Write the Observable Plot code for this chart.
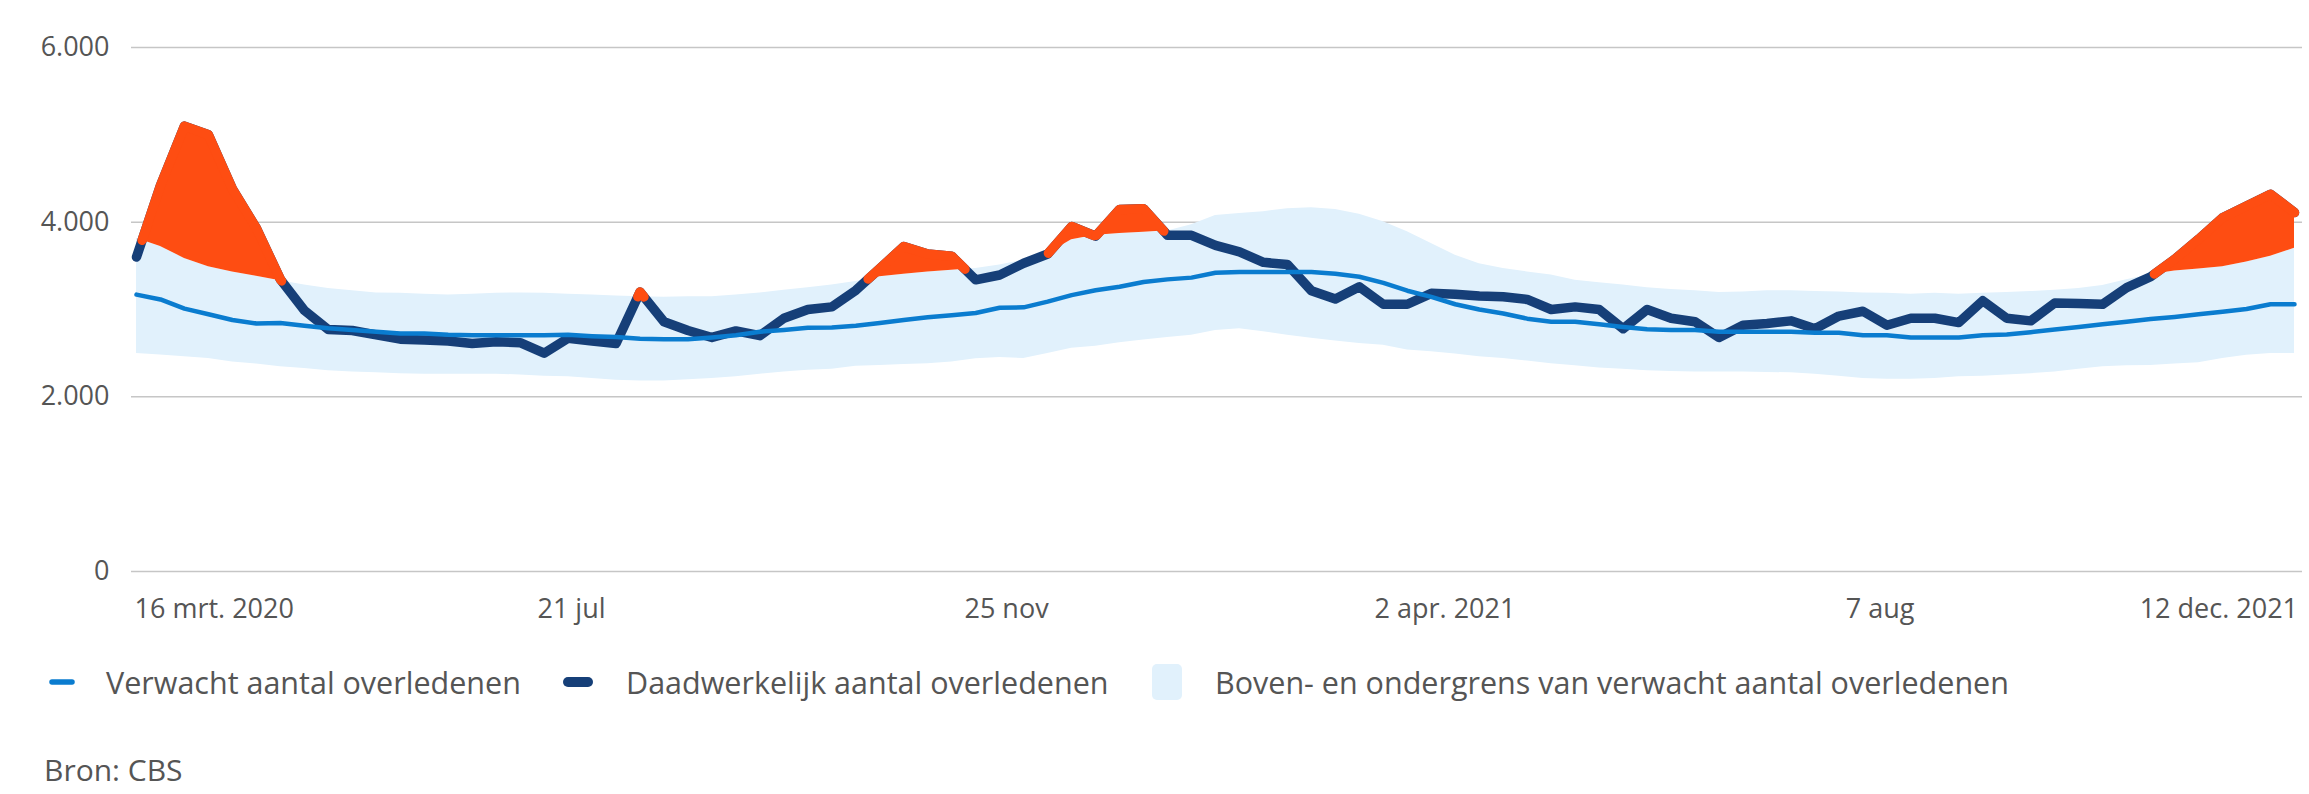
<!DOCTYPE html>
<html>
<head>
<meta charset="utf-8">
<script src="https://cdn.jsdelivr.net/npm/d3@7"></script>
<script src="https://cdn.jsdelivr.net/npm/@observablehq/plot@0.6"></script>
<style>
  html, body { margin: 0; padding: 0; background: #fff; }
  body { font-family: "Open Sans", sans-serif; color: #555; }
  #wrap { position: relative; width: 2309px; height: 794px; overflow: hidden; }
  #chart { position: absolute; left: 0; top: 0; }
  .item { position: absolute; top: 662px; height: 40px; display: flex; align-items: center; font-size: 30.5px; white-space: nowrap; }
  .sw { flex: none; }
  .txt { margin-left: 32px; }
  #source { position: absolute; left: 44px; top: 755px; height: 30px; line-height: 30px; font-size: 30px; white-space: nowrap; }
</style>
</head>
<body>
<div id="wrap">
  <div id="chart"></div>
  <div id="legend"></div>
  <div id="source"></div>
</div>
<script>
// ---- data (weekly, first week starting 16 March 2020) ----
const firstWeek = "2020-03-16";

const actual = [
  3600, 4420, 5100, 5000, 4380, 3930, 3345, 2990, 2770, 2760,
  2710, 2660, 2650, 2640, 2610, 2630, 2620, 2500, 2670, 2640,
  2610, 3200, 2860, 2760, 2680, 2755, 2700, 2900, 3000, 3030,
  3220, 3470, 3720, 3635, 3610, 3340, 3395, 3530, 3635, 3950,
  3840, 4145, 4155, 3850, 3850, 3735, 3660, 3540, 3515, 3215,
  3120, 3260, 3060, 3060, 3185, 3175, 3155, 3145, 3115, 3000,
  3030, 3000, 2780, 3000, 2900, 2860, 2680, 2820, 2840, 2870,
  2780, 2925, 2980, 2820, 2900, 2900, 2850, 3100, 2900, 2870,
  3075, 3070, 3060, 3250, 3375, 3575, 3805, 4050, 4185, 4320,
  4110
];

const expected = [
  3170, 3115, 3010, 2945, 2880, 2840, 2845, 2815, 2785, 2765,
  2745, 2725, 2725, 2710, 2705, 2705, 2705, 2705, 2710, 2695,
  2685, 2665, 2660, 2660, 2680, 2705, 2745, 2765, 2790, 2795,
  2815, 2845, 2880, 2910, 2935, 2960, 3020, 3025, 3090, 3165,
  3220, 3260, 3315, 3345, 3365, 3420, 3430, 3430, 3430, 3430,
  3410, 3375, 3305, 3215, 3145, 3060, 3000, 2955, 2895, 2860,
  2860, 2830, 2800, 2775, 2765, 2765, 2745, 2745, 2745, 2745,
  2735, 2735, 2705, 2705, 2680, 2680, 2680, 2705, 2715, 2740,
  2770, 2800, 2830, 2860, 2890, 2915, 2945, 2975, 3005, 3060,
  3060
];

const upper = [
  3815, 3720, 3585, 3490, 3430, 3380, 3330, 3280, 3240, 3215,
  3190, 3185, 3175, 3165, 3175, 3185, 3190, 3185, 3175, 3165,
  3155, 3145, 3140, 3145, 3145, 3165, 3190, 3220, 3250, 3280,
  3320, 3375, 3405, 3430, 3450, 3470, 3510, 3565, 3640, 3800,
  3850, 3870, 3885, 3900, 3970, 4075, 4100, 4120, 4155, 4165,
  4145, 4090, 4005, 3890, 3755, 3620, 3525, 3470, 3430, 3395,
  3335, 3305, 3280, 3250, 3230, 3215, 3195, 3200, 3215, 3215,
  3205, 3200, 3190, 3185, 3175, 3185, 3175, 3185, 3195, 3205,
  3220, 3240, 3275, 3340, 3400, 3440, 3465, 3490, 3545, 3610,
  3700
];

const lower = [
  2495, 2480, 2460, 2440, 2400, 2375, 2345, 2325, 2300, 2285,
  2275, 2265, 2260, 2260, 2260, 2260, 2250, 2235, 2230, 2210,
  2190, 2180, 2180, 2195, 2210, 2230, 2260, 2285, 2305, 2315,
  2350, 2360, 2370, 2380, 2400, 2435, 2450, 2440, 2495, 2555,
  2580, 2620, 2650, 2680, 2705, 2760, 2780, 2745, 2705, 2670,
  2640, 2610, 2590, 2535, 2515, 2490, 2460, 2440, 2410, 2380,
  2355, 2330, 2315, 2300, 2290, 2285, 2285, 2285, 2280, 2275,
  2260, 2235, 2210, 2200, 2200, 2210, 2230, 2235, 2250, 2265,
  2285, 2315, 2345, 2355, 2360, 2375, 2390, 2440, 2475, 2495,
  2495
];

const yTicks = [0, 2000, 4000, 6000];
const xTickDates = ["2020-03-16", "2020-07-21", "2020-11-25", "2021-04-02", "2021-08-07", "2021-12-12"];
const xTickLabels = ["16 mrt. 2020", "21 jul", "25 nov", "2 apr. 2021", "7 aug", "12 dec. 2021"];

const legendLabels = [
  "Verwacht aantal overledenen",
  "Daadwerkelijk aantal overledenen",
  "Boven- en ondergrens van verwacht aantal overledenen"
];
const sourceText = "Bron: CBS";

const colors = {
  expected: "#0a7ccf",
  actual: "#163f78",
  band: "#e1f1fc",
  excess: "#fe4d12",
  grid: "#c6c6c6",
  text: "#555555"
};

// ---- build table ----
const start = new Date(firstWeek + "T00:00:00Z");
const rows = actual.map((a, i) => ({
  date: d3.utcDay.offset(start, 7 * i),
  actual: a,
  expected: expected[i],
  upper: upper[i],
  lower: lower[i]
}));

// part of the actual series above the upper bound (with crossings)
const excess = [];
let seg = 0;
for (let i = 0; i < rows.length; i++) {
  const r = rows[i];
  const d = r.actual - r.upper;
  if (i > 0) {
    const p = rows[i - 1];
    const dp = p.actual - p.upper;
    if ((dp > 0) !== (d > 0)) {
      const t = dp / (dp - d);
      const date = new Date(+p.date + t * (r.date - p.date));
      const u = p.upper + t * (r.upper - p.upper);
      if (!(dp > 0)) seg++;
      excess.push({date, upper: u, top: u, seg});
    }
  }
  if (d > 0) excess.push({date: r.date, upper: r.upper, top: r.actual, seg});
}

const nl = d3.formatLocale({decimal: ",", thousands: ".", grouping: [3], currency: ["€ ", ""]});
const fmtY = nl.format(",d");
const tickDates = xTickDates.map(s => new Date(s + "T00:00:00Z"));
const labelOf = new Map(tickDates.map((d, i) => [+d, xTickLabels[i]]));
const fmtX = d => labelOf.get(+d);

const axisCommon = {tickSize: 0, tickPadding: 27, fontSize: 27, fill: colors.text, label: null, tickFormat: fmtX};

const chart = Plot.plot({
  width: 2309,
  height: 640,
  marginLeft: 131,
  marginRight: 7,
  marginTop: 47,
  marginBottom: 69,
  style: {fontFamily: '"Open Sans", sans-serif', fontSize: "27px", color: colors.text, background: "white", overflow: "visible"},
  x: {type: "utc", domain: [rows[0].date, rows[rows.length - 1].date], insetLeft: 5, insetRight: 8},
  y: {domain: [0, 6000]},
  marks: [
    Plot.ruleY(yTicks, {stroke: colors.grid, strokeWidth: 1.5}),
    Plot.areaY(rows, {x: "date", y1: "lower", y2: "upper", fill: colors.band}),
    Plot.lineY(rows, {x: "date", y: "actual", stroke: colors.actual, strokeWidth: 9.5, strokeLinejoin: "round", strokeLinecap: "round"}),
    Plot.lineY(rows, {x: "date", y: "expected", stroke: colors.expected, strokeWidth: 4.5, strokeLinejoin: "round", strokeLinecap: "round"}),
    Plot.areaY(excess, {x: "date", y1: "upper", y2: "top", z: "seg", fill: colors.excess}),
    Plot.lineY(excess, {x: "date", y: "top", z: "seg", stroke: colors.excess, strokeWidth: 9.5, strokeLinejoin: "round", strokeLinecap: "round"}),
    Plot.axisY({ticks: yTicks, tickFormat: fmtY, tickSize: 0, tickPadding: 22, fontSize: 27, fill: colors.text, label: null}),
    Plot.axisX({...axisCommon, ticks: tickDates.slice(0, 1), textAnchor: "start", dx: -2}),
    Plot.axisX({...axisCommon, ticks: tickDates.slice(1, -1)}),
    Plot.axisX({...axisCommon, ticks: tickDates.slice(-1), textAnchor: "end", dx: -17})
  ]
});
document.getElementById("chart").appendChild(chart);

// ---- legend ----
const legend = document.getElementById("legend");
const items = [
  {left: 49, sw: `<svg class="sw" width="26" height="10"><line x1="3" y1="5" x2="23" y2="5" stroke="${colors.expected}" stroke-width="5.5" stroke-linecap="round"/></svg>`},
  {left: 563, sw: `<svg class="sw" width="30" height="14"><line x1="5" y1="7" x2="25" y2="7" stroke="${colors.actual}" stroke-width="10" stroke-linecap="round"/></svg>`},
  {left: 1152, sw: `<svg class="sw" width="30" height="36"><rect x="0" y="0" width="30" height="36" rx="5" fill="${colors.band}"/></svg>`}
];
const textLefts = [106, 626, 1215];
items.forEach((it, i) => {
  const div = document.createElement("div");
  div.className = "item";
  div.style.left = it.left + "px";
  div.innerHTML = it.sw;
  const t = document.createElement("span");
  t.className = "txt";
  t.textContent = legendLabels[i];
  div.appendChild(t);
  legend.appendChild(div);
  const swWidth = div.querySelector("svg").getAttribute("width");
  t.style.marginLeft = (textLefts[i] - it.left - (+swWidth)) + "px";
});
document.getElementById("source").textContent = sourceText;
</script>
</body>
</html>
